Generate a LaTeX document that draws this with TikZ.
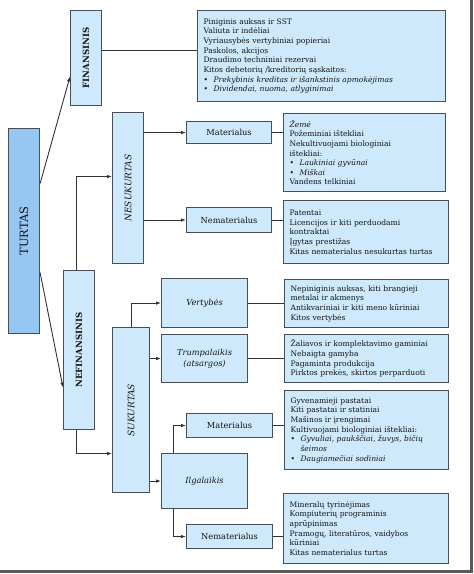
\documentclass[tikz,border=0pt]{standalone}
\usepackage{fontspec}
\setmainfont{DejaVu Serif}
\usetikzlibrary{arrows.meta,calc}
\definecolor{boxfill}{RGB}{206,233,251}
\definecolor{rootfill}{RGB}{150,198,242}
\definecolor{boxline}{RGB}{70,78,88}
\definecolor{connc}{RGB}{50,50,50}
\definecolor{shadowc}{RGB}{90,90,90}
\definecolor{textc}{RGB}{20,20,20}
\newcommand{\bul}{\makebox[10bp][l]{\textbullet}}
\begin{document}
\begin{tikzpicture}[x=1bp,y=-1bp,
 box/.style={draw=boxline, fill=boxfill, line width=1.1bp, inner sep=0pt, anchor=north west, text=textc},
 txt/.style={box, align=left, inner xsep=6bp, inner ysep=1bp, font=\fontsize{7.6}{9.7}\selectfont},
 lbl/.style={box, align=center, font=\fontsize{8.3}{10.5}\selectfont},
 vlbl/.style={box, align=center},
 conn/.style={draw=connc, line width=0.9bp},
 arr/.style={conn, -{Latex[length=5bp,width=3.6bp]}}]
\useasboundingbox (0,0) rectangle (474,574);
\fill[white] (0,0) rectangle (474,574);
\fill[shadowc] (469.5,0) rectangle (472.5,572.5);
\fill[shadowc] (0,569.5) rectangle (472.5,572.5);

% left column
\node[vlbl, fill=rootfill, minimum width=31bp, minimum height=205bp] (turtas) at (8,128)
  {\rotatebox{90}{\fontsize{11.5}{12}\selectfont TURTAS}};
\node[vlbl, minimum width=31bp, minimum height=95bp] (fin) at (70,10)
  {\rotatebox{90}{\fontsize{8.6}{10}\selectfont\bfseries FINANSINIS}};
\node[vlbl, minimum width=31bp, minimum height=159bp] (nefin) at (63,270)
  {\rotatebox{90}{\fontsize{8.6}{10}\selectfont\bfseries NEFINANSINIS}};
\node[vlbl, minimum width=31bp, minimum height=151bp] (nesuk) at (112,112)
  {\rotatebox{90}{\fontsize{9}{10}\selectfont\itshape NESUKURTAS}};
\node[vlbl, minimum width=37bp, minimum height=165bp] (suk) at (112,327)
  {\rotatebox{90}{\fontsize{9}{10}\selectfont\itshape SUKURTAS}};

% middle labels
\node[lbl, minimum width=85bp, minimum height=22bp] (mat1) at (186,121) {Materialus};
\node[lbl, minimum width=85bp, minimum height=25bp] (nemat1) at (186,207) {Nematerialus};
\node[lbl, minimum width=86bp, minimum height=49bp] (vert) at (161,278) {\itshape Vertybės};
\node[lbl, minimum width=86bp, minimum height=48bp] (trump) at (161,334) {\itshape Trumpalaikis\\\itshape (atsargos)};
\node[lbl, minimum width=86bp, minimum height=55bp] (ilg) at (161,453) {\itshape Ilgalaikis};
\node[lbl, minimum width=86bp, minimum height=24bp] (mat2) at (186,413) {Materialus};
\node[lbl, minimum width=86bp, minimum height=24bp] (nemat2) at (186,524) {Nematerialus};

% text boxes
\node[txt, text width=236bp, minimum height=91bp] (topbox) at (197,10) {%
Piniginis auksas ir SST\\
Valiuta ir indėliai\\
Vyriausybės vertybiniai popieriai\\
Paskolos, akcijos\\
Draudimo techniniai rezervai\\
Kitos debetorių /kreditorių sąskaitos:\\
\bul\textit{Prekybinis kreditas ir išankstinis apmokėjimas}\\
\bul\textit{Dividendai, nuoma, atlyginimai}};

\node[txt, text width=150bp, minimum height=78bp] (mat1box) at (283,113) {%
\textit{Žemė}\\
Požeminiai ištekliai\\
Nekultivuojami biologiniai\\
ištekliai:\\
\bul\textit{Laukiniai gyvūnai}\\
\bul\textit{Miškai}\\
Vandens telkiniai};

\node[txt, text width=153bp, minimum height=63bp] (nemat1box) at (283,200) {%
Patentai\\
Licencijos ir kiti perduodami\\
kontraktai\\
Įgytas prestižas\\
Kitas nematerialus nesukurtas turtas};

\node[txt, text width=152bp, minimum height=48bp] (vertbox) at (284,279) {%
Nepiniginis auksas, kiti brangieji\\
metalai ir akmenys\\
Antikvariniai ir kiti meno kūriniai\\
Kitos vertybės};

\node[txt, text width=152bp, minimum height=48bp] (trumpbox) at (284,334) {%
Žaliavos ir komplektavimo gaminiai\\
Nebaigta gamyba\\
Pagaminta produkcija\\
Pirktos prekės, skirtos perparduoti};

\node[txt, text width=152bp, minimum height=79bp] (mat2box) at (284,390) {%
Gyvenamieji pastatai\\
Kiti pastatai ir statiniai\\
Mašinos ir įrengimai\\
Kultivuojami biologiniai ištekliai:\\
\bul\textit{Gyvuliai, paukščiai, žuvys, bičių}\\
\hspace*{10bp}\textit{šeimos}\\
\bul\textit{Daugiamečiai sodiniai}};

\node[txt, text width=153bp, minimum height=70bp] (nemat2box) at (283,493) {%
Mineralų tyrinėjimas\\
Kompiuterių programinis\\
aprūpinimas\\
Pramogų, literatūros, vaidybos\\
kūriniai\\
Kitas nematerialus turtas};

% connectors
\draw[arr] ([yshift=47.5bp]turtas.east) -- ([yshift=-18.5bp]fin.west);
\draw[arr] ([yshift=-41.5bp]turtas.east) -- ([yshift=-37.5bp]nefin.west);
\draw[conn] ([yshift=8bp]fin.east) -- ([yshift=8bp]fin.east -| topbox.west);
\draw[arr] ([xshift=-2.5bp]nefin.north) |- ([yshift=11.5bp]nesuk.west);
\draw[arr] ([xshift=-2.5bp]nefin.south) |- ([yshift=-43.5bp]suk.west);
\draw[arr] (mat1.west -| nesuk.east) -- (mat1.west);
\draw[arr] (nemat1.west -| nesuk.east) -- (nemat1.west);
\draw[conn] (mat1.east) -- (mat1.east -| mat1box.west);
\draw[conn] (nemat1.east) -- (nemat1.east -| nemat1box.west);
\draw[arr] (suk.north) |- (vert.west);
\draw[arr] (trump.west -| suk.east) -- (trump.west);
\draw[arr] (ilg.west -| suk.east) -- (ilg.west);
\draw[conn] (vert.east) -- (vert.east -| vertbox.west);
\draw[conn] (trump.east) -- (trump.east -| trumpbox.west);
\draw[arr] ([xshift=12bp]ilg.north west) |- (mat2.west);
\draw[arr] ([xshift=12bp]ilg.south west) |- (nemat2.west);
\draw[conn] (mat2.east) -- (mat2.east -| mat2box.west);
\draw[conn] (nemat2.east) -- (nemat2.east -| nemat2box.west);
\end{tikzpicture}
\end{document}
